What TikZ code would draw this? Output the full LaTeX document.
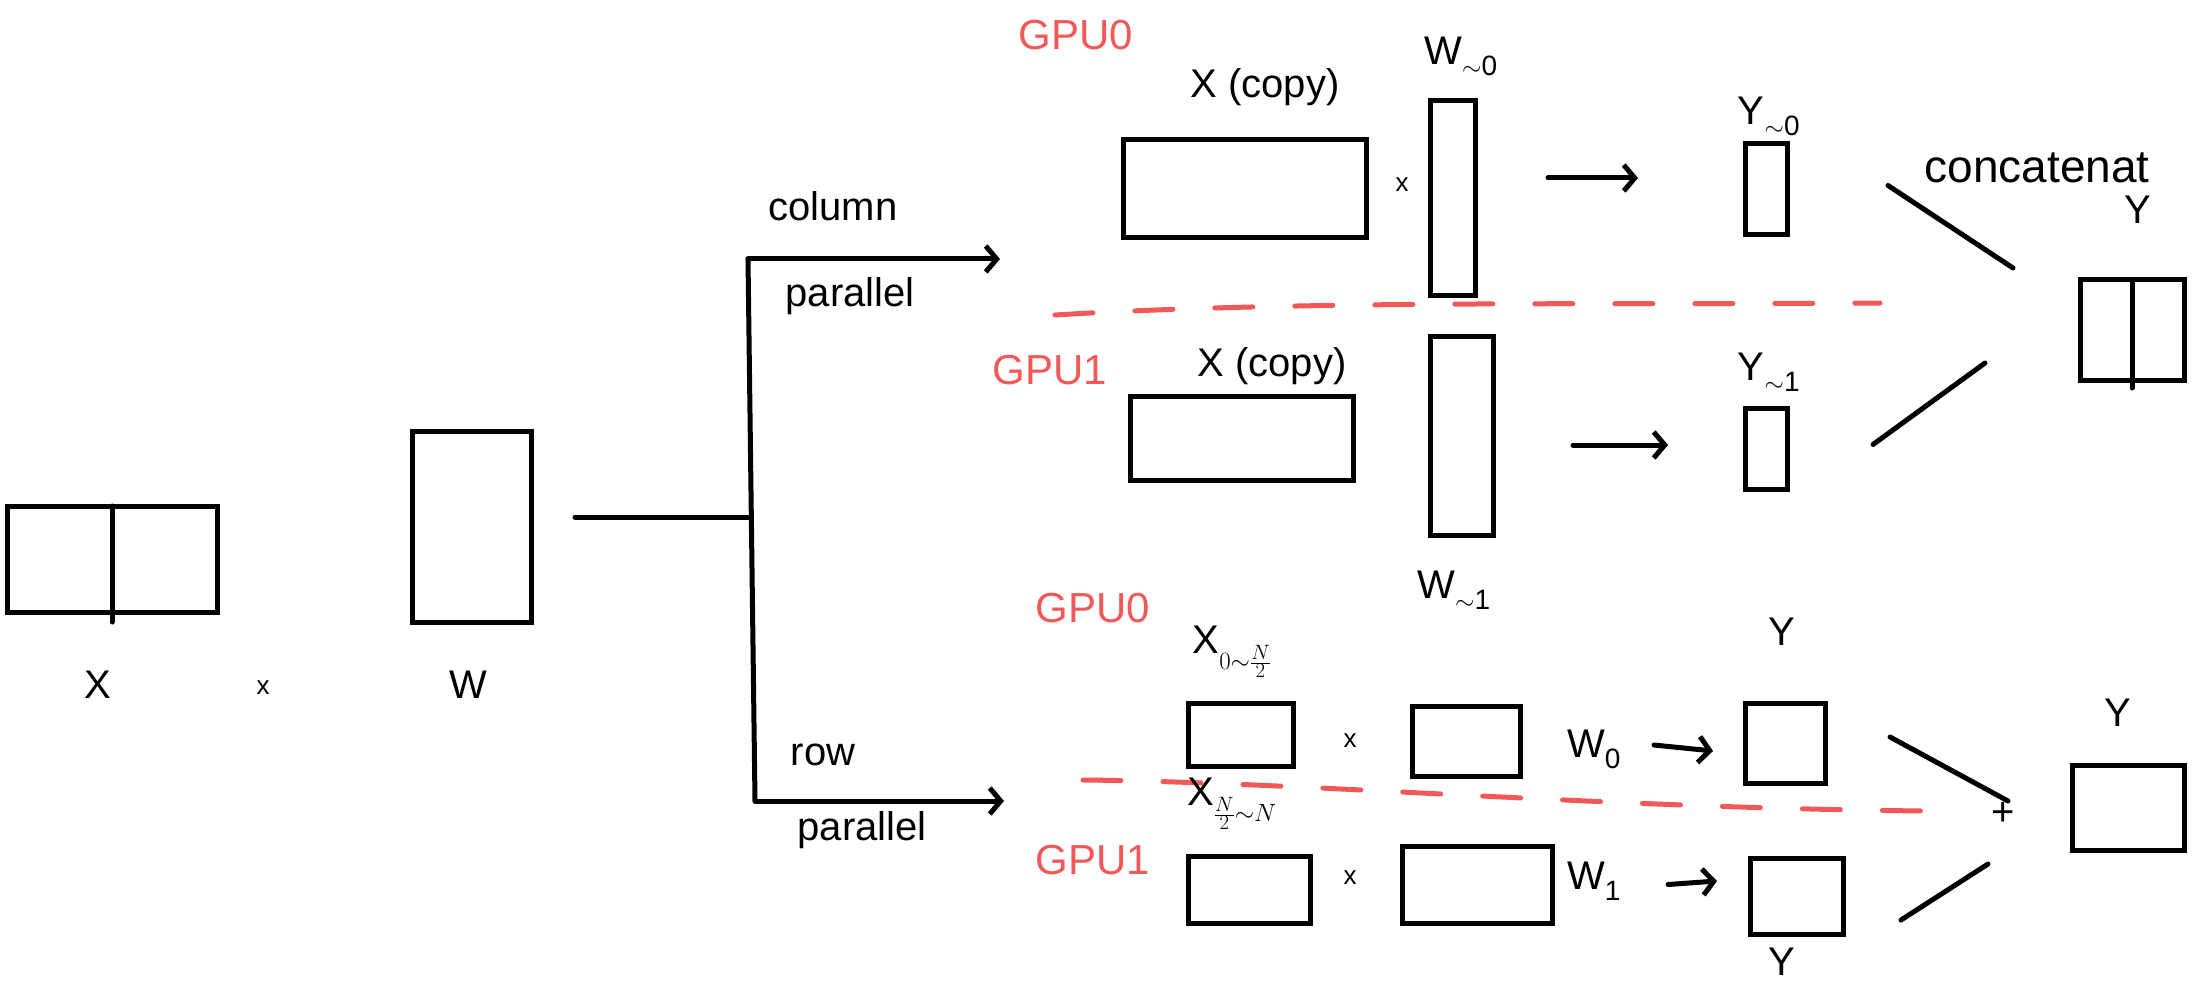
\documentclass[tikz,border=0pt]{standalone}
\usepackage{fontspec}
\setmainfont{Liberation Sans}
\usetikzlibrary{arrows.meta}
\definecolor{gpured}{RGB}{242,88,88}
\begin{document}
\begin{tikzpicture}[x=1pt,y=-1pt,
  ink/.style={line width=5pt, line cap=round, line join=round},
  mat/.style={draw, line width=5pt, inner sep=0pt, outer sep=0pt},
  arr/.style={ink, -{Straight Barb[length=11pt,width=26pt]}},
  lbl/.style={font=\fontsize{40}{42}\selectfont, inner sep=0pt},
  small/.style={font=\fontsize{26}{28}\selectfont, inner sep=0pt},
  gpu/.style={text=gpured, font=\fontsize{42}{44}\selectfont, inner sep=0pt},
  sep/.style={gpured, line width=5pt, line cap=round, dash pattern=on 38pt off 42pt}
]
\useasboundingbox (0,0) rectangle (2192,1000);

% ---- input ----
\node[mat, minimum width=210pt, minimum height=106pt] (X) at (112,559) {};
\draw[ink] (X.north) -- ([shift={(0,10)}]X.south);
\node[mat, minimum width=119pt, minimum height=191pt] (W) at (471.5,526.5) {};
\node[lbl] (Xl) at (98,685) {X};
\node[small] (times0) at (263,688) {x};
\node[lbl] (Wl) at (468,685) {W};

% ---- split ----
\coordinate (lstart) at (575,517);
\coordinate (split) at (748,517);
\coordinate (ctop) at (748,259);
\coordinate (rbot) at (755,801);
\coordinate (cend) at (1000,259);
\coordinate (rend) at (1004,801);
\draw[ink] (lstart) -- (split);
\draw[ink] (ctop) -- (rbot);
\draw[arr] (ctop) -- (cend);
\draw[arr] (rbot) -- (rend);
\node[lbl] (colA) at (833,206) {column};
\node[lbl] (colB) at (850,296) {parallel};
\node[lbl] (rowA) at (823,755) {row};
\node[lbl] (rowB) at (862,830) {parallel};

% ---- column parallel ----
\node[gpu] (g0a) at (1076,35) {GPU0};
\node[gpu] (g1a) at (1050,370) {GPU1};
\draw[sep] (1055,315) .. controls (1300,300) and (1600,305) .. (1880,303);

\node[mat, minimum width=243pt, minimum height=98pt] (Xc0) at (1244.5,189) {};
\node[lbl] (Xc0l) at (1265,87) {X (copy)};
\node[small] (times1) at (1402,185) {x};
\node[mat, minimum width=45pt, minimum height=195pt] (W00) at (1452.5,198.5) {};
\node[lbl] (W00l) at (1461,56) {W\textsubscript{$\sim$0}};
\node[mat, minimum width=42pt, minimum height=91pt] (Y0) at (1766,189.5) {};
\node[lbl] (Y0l) at (1769,116) {Y\textsubscript{$\sim$0}};
\coordinate (a1s) at (1548,178);
\coordinate (a1e) at (1638,178);
\draw[arr] (a1s) -- (a1e);

\node[mat, minimum width=223pt, minimum height=84pt] (Xc1) at (1241.5,438) {};
\node[lbl] (Xc1l) at (1272,366) {X (copy)};
\node[mat, minimum width=63pt, minimum height=199pt] (W01) at (1461.5,435.5) {};
\node[lbl] (W01l) at (1454,590) {W\textsubscript{$\sim$1}};
\node[mat, minimum width=42pt, minimum height=81pt] (Y1) at (1766,448.5) {};
\node[lbl] (Y1l) at (1769,372) {Y\textsubscript{$\sim$1}};
\coordinate (a2s) at (1573,445);
\coordinate (a2e) at (1668,445);
\draw[arr] (a2s) -- (a2e);

\node[mat, minimum width=104pt, minimum height=100pt] (C) at (2132,330) {};
\draw[ink] (C.north) -- ([shift={(0,8)}]C.south);
\node[lbl, font=\fontsize{46}{48}\selectfont] (Cl) at (2037,168) {concatenat};
\node[lbl] (CY) at (2138,210) {Y};
\draw[ink] ([shift={(101,-4)}]Y0.east) -- ([shift={(-67,-12)}]C.north west);
\draw[ink] ([shift={(86,-4)}]Y1.east) -- ([shift={(-95,-17)}]C.south west);

% ---- row parallel ----
\node[gpu] (g0b) at (1093,608) {GPU0};
\node[gpu] (g1b) at (1093,860) {GPU1};
\draw[sep] (1083,780) .. controls (1300,782) and (1600,808) .. (1926,811);

\node[mat, minimum width=105pt, minimum height=63pt] (Xr0) at (1240.5,734.5) {};
\node[lbl] (Xr0l) at (1232,652) {X$_{0\sim\frac{N}{2}}$};
\node[small] (times2) at (1350,741) {x};
\node[mat, minimum width=108pt, minimum height=70pt] (Wr0) at (1466,741) {};
\node[lbl] (Wr0l) at (1594,749) {W\textsubscript{0}};
\node[mat, minimum width=80pt, minimum height=80pt] (Yr0) at (1785,743) {};
\node[lbl] (Yr0l) at (1782,632) {Y};
\draw[arr] ([shift={(134,4)}]Wr0.east) -- ([shift={(-32,8)}]Yr0.west);

\node[mat, minimum width=122pt, minimum height=67pt] (Xr1) at (1249,889.5) {};
\node[lbl] (Xr1l) at (1232,804) {X$_{\frac{N}{2}\sim N}$};
\node[small] (times3) at (1350,878) {x};
\node[mat, minimum width=150pt, minimum height=77pt] (Wr1) at (1477,884.5) {};
\node[lbl] (Wr1l) at (1594,881) {W\textsubscript{1}};
\node[mat, minimum width=93pt, minimum height=76pt] (Yr1) at (1796.5,896) {};
\node[lbl] (Yr1l) at (1782,962) {Y};
\draw[arr] ([shift={(116,0)}]Wr1.east) -- ([shift={(-33,-15)}]Yr1.west);

\node[mat, minimum width=112pt, minimum height=85pt] (S) at (2128,807.5) {};
\node[lbl] (Sl) at (2118,713) {Y};
\node[lbl] (plus) at (2003,814) {+};
\draw[ink] ([shift={(65,-6)}]Yr0.east) -- ([shift={(5,-13)}]plus.center);
\draw[ink] ([shift={(58,24)}]Yr1.east) -- ([shift={(-15,50)}]plus.center);
\end{tikzpicture}
\end{document}
